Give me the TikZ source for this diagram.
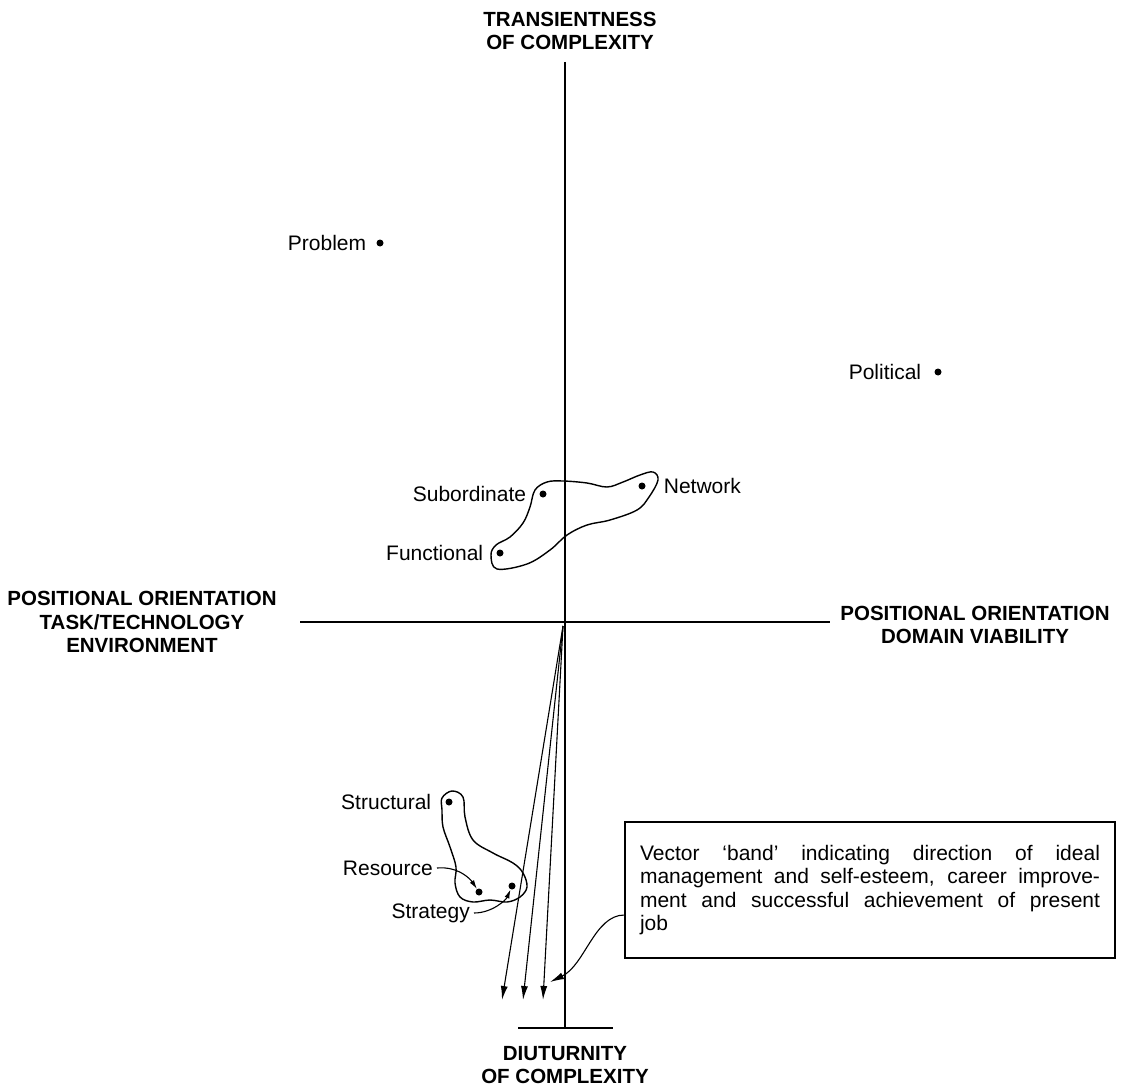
\documentclass[tikz,border=0pt]{standalone}
\usepackage{fontspec}
\setmainfont{Liberation Sans}
\usetikzlibrary{positioning,arrows.meta}
\begin{document}
\begin{tikzpicture}[x=1pt,y=-1pt,
        dot/.style={circle,fill,inner sep=0pt,minimum size=7pt},
        lbl/.style={inner sep=0pt,font=\fontsize{21}{25}\selectfont},
        axislbl/.style={inner sep=0pt,align=center,font=\fontsize{20.5}{23.5}\selectfont\bfseries},
        axis/.style={line width=1.5pt},
        blob/.style={line width=1.4pt},
        band/.style={line width=1.1pt,-{Latex[length=14pt,width=7pt]}},
        pointer/.style={line width=1.1pt,-{Latex[length=9pt,width=5pt]}}]
        \useasboundingbox (0,0) rectangle (1123,1086);
        \coordinate (top) at (565,62);
        \coordinate (bot) at (565,1028);
        \coordinate (west) at (300,622);
        \coordinate (east) at (830,622);
        \coordinate (botl) at (518,1028);
        \coordinate (botr) at (613,1028);
        \draw[axis] (top) -- (bot);
        \draw[axis] (west) -- (east);
        \draw[axis] (botl) -- (botr);
        \node[axislbl] (transient) at (570,31) {TRANSIENTNESS\\OF COMPLEXITY};
        \node[axislbl,anchor=south] (diuturn) at (565,1084) {DIUTURNITY\\OF COMPLEXITY};
        \node[axislbl] (tasktech) at (142,622) {POSITIONAL ORIENTATION\\TASK/TECHNOLOGY\\ENVIRONMENT};
        \node[axislbl] (domain) at (975,625) {POSITIONAL ORIENTATION\\DOMAIN VIABILITY};
        \node[dot] (problem) at (380,243) {};
        \node[dot] (political) at (938,372) {};
        \node[dot] (network) at (642,486) {};
        \node[dot] (subord) at (543,494) {};
        \node[dot] (functional) at (500,553) {};
        \node[dot] (structural) at (449,802) {};
        \node[dot] (resource) at (479,892) {};
        \node[dot] (strategy) at (512,886) {};
        \node[lbl,left=10pt of problem] {Problem};
        \node[lbl,left=13pt of political] {Political};
        \node[lbl,right=18pt of network] {Network};
        \node[lbl,left=13pt of subord] {Subordinate};
        \node[lbl,left=13pt of functional] {Functional};
        \node[lbl,left=14pt of structural] {Structural};
        \node[lbl,anchor=east] (reslbl) at (433,868) {Resource};
        \node[lbl,anchor=east] (stratlbl) at (470,913) {Strategy};
        \draw[blob] plot[smooth cycle,tension=0.6] coordinates {(491,555) (497,569) (527,564) (550,550) (567,535) (587,525) (610,520) (637,510) (649,497) (658,480) (653,472) (640,475) (623,482) (607,487) (587,483) (563,481) (547,482) (535,490) (530,507) (523,523) (510,537) (496,545)};
        \draw[blob] plot[smooth cycle,tension=0.6] coordinates {(442,798) (452,791) (463,797) (465,817) (473,840) (493,853) (513,863) (523,873) (527,887) (520,897) (507,902) (490,900) (473,902) (460,897) (455,883) (456,867) (450,847) (443,827) (442,810)};
        \draw[pointer] ([xshift=4pt]reslbl.east) .. controls +(22,-2) and +(-8,-12) .. (resource);
        \draw[pointer] ([xshift=4pt]stratlbl.east) .. controls +(18,0) and +(-6,14) .. (strategy);
        \coordinate (origin) at (563,626);
        \foreach \i/\x in {1/502,2/523,3/543}
            \coordinate (v\i) at (\x,1000);
        \foreach \i in {1,2,3}
            \draw[band] (origin) -- (v\i);
        \node[draw,line width=1.2pt,text width=460pt,align=justify,inner xsep=15pt,inner ysep=0pt,
            minimum height=136pt,font=\fontsize{21}{23.5}\selectfont] (bandbox) at (870,890)
            {\tolerance=10000\hyphenpenalty=10000 Vector `band' indicating direction of ideal\linebreak
            management and self-esteem, career improve-\linebreak
            ment and successful achievement of present\linebreak
            job};
        \coordinate (bandtip) at (550,982);
        \draw[band] ([yshift=-25pt]bandbox.west) .. controls +(-30,0) and +(35,-17) .. (bandtip);
\end{tikzpicture}
\end{document}
